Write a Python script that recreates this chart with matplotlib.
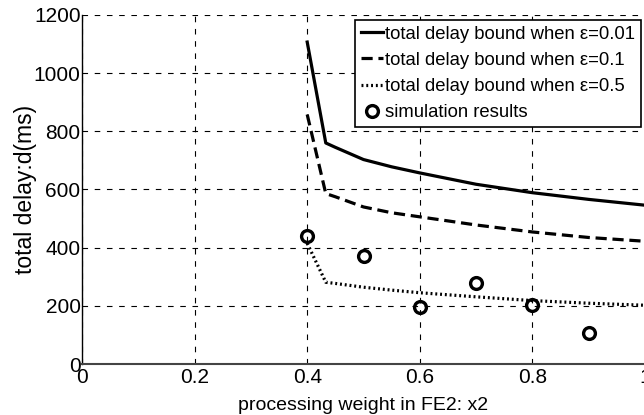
import matplotlib
matplotlib.use("Agg")
from matplotlib import pyplot as plt

plt.rcParams['font.family'] = ['Liberation Sans', 'DejaVu Sans']

# curve samples
x_bound = [0.4, 0.433, 0.45, 0.5, 0.55, 0.6, 0.7, 0.8, 0.9, 1.0]
d_eps001 = [1107, 760, 745, 703, 678, 657, 618, 589, 566, 546]
d_eps01 = [858, 586, 575, 540, 520, 506, 478, 454, 435, 422]
d_eps05 = [415, 281, 277, 264, 254, 245, 231, 218, 209, 202]

# simulation points
x_sim = [0.4, 0.5, 0.6, 0.7, 0.8, 0.9]
d_sim = [441, 372, 197, 277, 202, 108]

labels = ['total delay bound when \u03b5=0.01',
          'total delay bound when \u03b5=0.1',
          'total delay bound when \u03b5=0.5',
          'simulation results']

fig = plt.figure(figsize=(6.44, 4.15), dpi=100)
ax = fig.add_axes([82 / 644, 51 / 415, 563 / 644, 349 / 415])

ax.plot(x_bound, d_eps001, color='black', lw=2.3, label=labels[0])
ax.plot(x_bound, d_eps01, color='black', lw=2.3, linestyle=(0, (3.5, 1.8)), label=labels[1])
ax.plot(x_bound, d_eps05, color='black', lw=2.3, linestyle=(0, (0.6, 0.9)), label=labels[2])
ax.plot(x_sim, d_sim, 'o', mfc='none', mec='black', mew=2.4, ms=8.5, label=labels[3])

ax.set_xlim(0, 1)
ax.set_ylim(0, 1200)
ax.set_xticks([0, 0.2, 0.4, 0.6, 0.8, 1])
ax.set_xticklabels(['0', '0.2', '0.4', '0.6', '0.8', '1'])
ax.set_yticks(range(0, 1201, 200))

ax.grid(True, color='black', lw=0.8, linestyle=(0, (5, 6)))
for s in ['top', 'right']:
    ax.spines[s].set_visible(False)
ax.spines['left'].set_linewidth(1.0)
ax.spines['bottom'].set_linewidth(1.5)
ax.spines['bottom'].set_color('#444444')
ax.tick_params(direction='in', length=0, labelsize=15)
ax.tick_params(axis='x', pad=3)
ax.tick_params(axis='y', pad=1)

ax.set_xlabel('processing weight in FE2: x2', fontsize=14, labelpad=7)
ax.set_ylabel('total delay:d(ms)', fontsize=16.5, labelpad=-2)

leg = ax.legend(loc='upper left', bbox_to_anchor=((355 - 82) / 563, (364 - 20) / 349),
                fontsize=13.3, frameon=True, fancybox=False, framealpha=1,
                edgecolor='black', handlelength=1.2, handletextpad=0.15,
                labelspacing=0.5, borderpad=0.3, borderaxespad=0)
leg.get_frame().set_linewidth(1.2)

fig.savefig('out.png', dpi=100)
